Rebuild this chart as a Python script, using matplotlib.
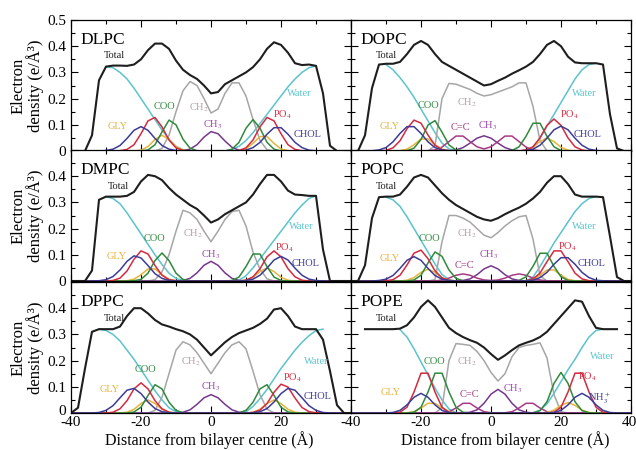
import matplotlib
matplotlib.use("Agg")
import matplotlib.pyplot as plt
import matplotlib.transforms as mtransforms
import numpy as np
from matplotlib.ticker import MultipleLocator

plt.rcParams["font.family"] = ["Liberation Serif", "DejaVu Serif"]
plt.rcParams["mathtext.fontset"] = "stix"

nan = np.nan
X = list(range(-40, 41, 2))  # distance from bilayer centre (A), one value per 2 A

# ---------------- DLPC ----------------
DLPC_TOTAL = [0, 0, 0, 0.06, 0.27, 0.322, 0.326, 0.326, 0.325, 0.33,
              0.35, 0.385, 0.41, 0.41, 0.39, 0.345, 0.31, 0.29, 0.275, 0.25,
              0.22, 0.225, 0.255, 0.27, 0.285, 0.30, 0.32, 0.35, 0.39, 0.415,
              0.405, 0.375, 0.335, 0.328, 0.33, 0.325, 0.22, 0.02, 0, 0, 0]
DLPC_WATER = [nan, nan, nan, nan, nan, 0.322, 0.318, 0.30, 0.275, 0.24,
              0.20, 0.16, 0.12, 0.08, 0.045, 0.018, 0.005, 0, 0, 0,
              0, 0, 0, 0.005, 0.018, 0.04, 0.07, 0.105, 0.14, 0.175,
              0.21, 0.245, 0.275, 0.30, 0.318, 0.325, nan, nan, nan, nan, nan]
DLPC_CH2 = [0, 0, 0, 0, 0, 0, 0, 0, 0, 0,
            0, 0, 0, 0.01, 0.06, 0.15, 0.23, 0.265, 0.25, 0.20,
            0.145, 0.16, 0.22, 0.26, 0.26, 0.21, 0.12, 0.04, 0.005, 0,
            0, 0, 0, 0, 0, 0, 0, 0, 0, 0, 0]
DLPC_CH3 = [0, 0, 0, 0, 0, 0, 0, 0, 0, 0,
            0, 0, 0, 0, 0, 0, 0.001, 0.007, 0.024, 0.053,
            0.074, 0.066, 0.038, 0.014, 0.003, 0.001, 0, 0, 0, 0,
            0, 0, 0, 0, 0, 0, 0, 0, 0, 0, 0]
DLPC_COO = [0, 0, 0, 0, 0, 0, 0, 0, 0, 0,
            0, 0.004, 0.024, 0.073, 0.118, 0.10, 0.045, 0.011, 0.001, 0,
            0, 0, 0, 0.007, 0.033, 0.087, 0.12, 0.087, 0.033, 0.007,
            0, 0, 0, 0, 0, 0, 0, 0, 0, 0, 0]
DLPC_GLY = [0, 0, 0, 0, 0, 0, 0, 0, 0, 0,
            0.003, 0.017, 0.044, 0.06, 0.044, 0.017, 0.003, 0, 0, 0,
            0, 0, 0, 0, 0, 0.008, 0.029, 0.055, 0.055, 0.029,
            0.008, 0.001, 0, 0, 0, 0, 0, 0, 0, 0, 0]
DLPC_PO4 = [0, 0, 0, 0, 0, 0, 0, 0.001, 0.006, 0.024,
            0.066, 0.115, 0.128, 0.092, 0.042, 0.012, 0.002, 0, 0, 0,
            0, 0, 0, 0, 0.002, 0.012, 0.042, 0.092, 0.128, 0.115,
            0.066, 0.024, 0.006, 0.001, 0, 0, 0, 0, 0, 0, 0]
DLPC_CHOL = [0, 0, 0, 0, 0, 0.002, 0.007, 0.021, 0.048, 0.079,
             0.093, 0.079, 0.048, 0.021, 0.007, 0.002, 0, 0, 0, 0,
             0, 0, 0, 0, 0, 0.003, 0.013, 0.033, 0.064, 0.089,
             0.089, 0.064, 0.033, 0.013, 0.003, 0.001, 0, 0, 0, 0, 0]

# ---------------- DMPC ----------------
DMPC_TOTAL = [0, 0, 0, 0.04, 0.31, 0.322, 0.322, 0.322, 0.325, 0.34,
              0.38, 0.405, 0.40, 0.385, 0.355, 0.33, 0.31, 0.29, 0.275, 0.25,
              0.223, 0.235, 0.255, 0.27, 0.285, 0.30, 0.33, 0.37, 0.405, 0.405,
              0.38, 0.345, 0.33, 0.328, 0.325, 0.325, 0.12, 0, 0, 0, 0]
DMPC_WATER = [nan, nan, nan, nan, nan, 0.322, 0.315, 0.295, 0.26, 0.22,
              0.18, 0.14, 0.10, 0.063, 0.03, 0.01, 0.002, 0, 0, 0,
              0, 0, 0, 0, 0.003, 0.02, 0.05, 0.085, 0.12, 0.155,
              0.19, 0.225, 0.26, 0.29, 0.315, 0.325, nan, nan, nan, nan, nan]
DMPC_CH2 = [0, 0, 0, 0, 0, 0, 0, 0, 0, 0,
            0, 0, 0.005, 0.035, 0.10, 0.19, 0.27, 0.26, 0.235, 0.19,
            0.15, 0.19, 0.235, 0.265, 0.27, 0.21, 0.11, 0.045, 0.008, 0,
            0, 0, 0, 0, 0, 0, 0, 0, 0, 0, 0]
DMPC_CH3 = [0, 0, 0, 0, 0, 0, 0, 0, 0, 0,
            0, 0, 0, 0, 0, 0, 0.002, 0.01, 0.031, 0.06,
            0.075, 0.06, 0.031, 0.01, 0.002, 0, 0, 0, 0, 0,
            0, 0, 0, 0, 0, 0, 0, 0, 0, 0, 0]
DMPC_COO = [0, 0, 0, 0, 0, 0, 0, 0, 0, 0.001,
            0.006, 0.03, 0.078, 0.107, 0.078, 0.03, 0.006, 0.001, 0, 0,
            0, 0, 0, 0.002, 0.015, 0.055, 0.103, 0.103, 0.055, 0.015,
            0.002, 0, 0, 0, 0, 0, 0, 0, 0, 0, 0]
DMPC_GLY = [0, 0, 0, 0, 0, 0, 0, 0, 0.001, 0.007,
            0.024, 0.046, 0.046, 0.024, 0.007, 0.001, 0, 0, 0, 0,
            0, 0, 0, 0, 0, 0.003, 0.014, 0.036, 0.05, 0.036,
            0.014, 0.003, 0, 0, 0, 0, 0, 0, 0, 0, 0]
DMPC_PO4 = [0, 0, 0, 0, 0, 0, 0.002, 0.011, 0.038, 0.083,
            0.115, 0.103, 0.059, 0.022, 0.005, 0.001, 0, 0, 0, 0,
            0, 0, 0, 0, 0, 0.003, 0.016, 0.047, 0.092, 0.115,
            0.092, 0.047, 0.016, 0.003, 0, 0, 0, 0, 0, 0, 0]
DMPC_CHOL = [0, 0, 0, 0, 0.001, 0.005, 0.017, 0.042, 0.075, 0.096,
             0.088, 0.059, 0.028, 0.01, 0.002, 0, 0, 0, 0, 0,
             0, 0, 0, 0, 0, 0.002, 0.007, 0.022, 0.049, 0.08,
             0.094, 0.08, 0.049, 0.022, 0.007, 0.002, 0, 0, 0, 0, 0]

# ---------------- DPPC ----------------
DPPC_TOTAL = [0, 0.02, 0.17, 0.31, 0.32, 0.32, 0.32, 0.33, 0.37, 0.40,
              0.40, 0.38, 0.355, 0.338, 0.33, 0.32, 0.312, 0.30, 0.28, 0.25,
              0.22, 0.245, 0.27, 0.29, 0.305, 0.315, 0.325, 0.34, 0.36, 0.395,
              0.40, 0.37, 0.33, 0.32, 0.32, 0.32, 0.28, 0.16, 0.03, 0, 0]
DPPC_WATER = [nan, nan, nan, nan, 0.32, 0.315, 0.30, 0.275, 0.24, 0.205,
              0.165, 0.125, 0.085, 0.05, 0.02, 0.005, 0, 0, 0, 0,
              0, 0, 0, 0, 0, 0.005, 0.025, 0.055, 0.09, 0.13,
              0.17, 0.205, 0.24, 0.27, 0.295, 0.315, 0.32, nan, nan, nan, nan]
DPPC_CH2 = [0, 0, 0, 0, 0, 0, 0, 0, 0, 0,
            0, 0, 0.01, 0.06, 0.15, 0.24, 0.272, 0.26, 0.23, 0.19,
            0.15, 0.19, 0.23, 0.26, 0.272, 0.245, 0.16, 0.07, 0.015, 0,
            0, 0, 0, 0, 0, 0, 0, 0, 0, 0, 0]
DPPC_CH3 = [0, 0, 0, 0, 0, 0, 0, 0, 0, 0,
            0, 0, 0, 0, 0, 0, 0.003, 0.012, 0.033, 0.058,
            0.07, 0.058, 0.033, 0.012, 0.003, 0, 0, 0, 0, 0,
            0, 0, 0, 0, 0, 0, 0, 0, 0, 0, 0]
DPPC_COO = [0, 0, 0, 0, 0, 0, 0, 0, 0, 0.004,
            0.022, 0.067, 0.108, 0.092, 0.041, 0.01, 0.001, 0, 0, 0,
            0, 0, 0, 0, 0.001, 0.01, 0.041, 0.092, 0.108, 0.067,
            0.022, 0.004, 0, 0, 0, 0, 0, 0, 0, 0, 0]
DPPC_GLY = [0, 0, 0, 0, 0, 0, 0, 0, 0.003, 0.014,
            0.036, 0.05, 0.036, 0.014, 0.003, 0, 0, 0, 0, 0,
            0, 0, 0, 0, 0, 0, 0.003, 0.014, 0.036, 0.05,
            0.036, 0.014, 0.003, 0, 0, 0, 0, 0, 0, 0, 0]
DPPC_PO4 = [0, 0, 0, 0, 0, 0, 0.003, 0.016, 0.047, 0.092,
            0.115, 0.092, 0.047, 0.016, 0.003, 0, 0, 0, 0, 0,
            0, 0, 0, 0, 0, 0, 0.002, 0.011, 0.036, 0.079,
            0.11, 0.099, 0.057, 0.021, 0.005, 0.001, 0, 0, 0, 0, 0]
DPPC_CHOL = [0, 0, 0, 0, 0.002, 0.01, 0.028, 0.058, 0.087, 0.094,
             0.074, 0.042, 0.017, 0.005, 0.001, 0, 0, 0, 0, 0,
             0, 0, 0, 0, 0, 0, 0.001, 0.005, 0.017, 0.042,
             0.074, 0.094, 0.087, 0.058, 0.028, 0.01, 0.002, 0, 0, 0, 0]

# ---------------- DOPC ----------------
DOPC_TOTAL = [0, 0, 0.06, 0.24, 0.33, 0.333, 0.333, 0.34, 0.37, 0.405,
              0.42, 0.405, 0.37, 0.34, 0.325, 0.31, 0.295, 0.28, 0.265, 0.25,
              0.255, 0.268, 0.28, 0.295, 0.308, 0.322, 0.34, 0.37, 0.405, 0.42,
              0.40, 0.36, 0.338, 0.335, 0.335, 0.335, 0.33, 0.14, 0.01, 0, 0]
DOPC_WATER = [nan, nan, nan, nan, nan, 0.33, 0.31, 0.28, 0.245, 0.205,
              0.16, 0.115, 0.07, 0.03, 0.008, 0, 0, 0, 0, 0,
              0, 0, 0, 0, 0, 0, 0.015, 0.05, 0.095, 0.14,
              0.185, 0.23, 0.275, 0.31, 0.33, 0.335, nan, nan, nan, nan, nan]
DOPC_CH2 = [0, 0, 0, 0, 0, 0, 0, 0, 0, 0,
            0, 0, 0.02, 0.2, 0.258, 0.255, 0.245, 0.235, 0.22, 0.21,
            0.215, 0.225, 0.235, 0.245, 0.26, 0.26, 0.17, 0.04, 0, 0,
            0, 0, 0, 0, 0, 0, 0, 0, 0, 0, 0]
DOPC_CH3 = [0, 0, 0, 0, 0, 0, 0, 0, 0, 0,
            0, 0, 0, 0, 0.001, 0.004, 0.013, 0.03, 0.049, 0.058,
            0.049, 0.03, 0.013, 0.004, 0.001, 0, 0, 0, 0, 0,
            0, 0, 0, 0, 0, 0, 0, 0, 0, 0, 0]
DOPC_CC = [0, 0, 0, 0, 0, 0, 0, 0, 0, 0,
           0, 0.001, 0.004, 0.015, 0.036, 0.057, 0.057, 0.036, 0.016, 0.008,
           0.016, 0.036, 0.057, 0.057, 0.036, 0.015, 0.004, 0.001, 0, 0,
           0, 0, 0, 0, 0, 0, 0, 0, 0, 0, 0]
DOPC_COO = [0, 0, 0, 0, 0, 0, 0, 0, 0.001, 0.011,
            0.044, 0.099, 0.116, 0.072, 0.023, 0.004, 0.001, 0, 0, 0,
            0, 0, 0, 0.002, 0.016, 0.056, 0.106, 0.106, 0.056, 0.016,
            0.002, 0, 0, 0, 0, 0, 0, 0, 0, 0, 0]
DOPC_GLY = [0, 0, 0, 0, 0, 0, 0, 0.001, 0.007, 0.024,
            0.046, 0.046, 0.024, 0.007, 0.001, 0, 0, 0, 0, 0,
            0, 0, 0, 0, 0, 0.003, 0.014, 0.036, 0.05, 0.036,
            0.014, 0.003, 0, 0, 0, 0, 0, 0, 0, 0, 0]
DOPC_PO4 = [0, 0, 0, 0, 0, 0.002, 0.012, 0.039, 0.085, 0.118,
            0.106, 0.061, 0.022, 0.005, 0.001, 0, 0, 0, 0, 0,
            0, 0, 0, 0, 0, 0.004, 0.016, 0.05, 0.098, 0.122,
            0.098, 0.05, 0.016, 0.004, 0, 0, 0, 0, 0, 0, 0]
DOPC_CHOL = [0, 0, 0, 0.001, 0.004, 0.013, 0.035, 0.067, 0.093, 0.093,
             0.067, 0.035, 0.013, 0.004, 0.001, 0, 0, 0, 0, 0,
             0, 0, 0, 0, 0, 0.002, 0.007, 0.022, 0.049, 0.081,
             0.095, 0.081, 0.049, 0.022, 0.007, 0.002, 0, 0, 0, 0, 0]

# ---------------- POPC ----------------
POPC_TOTAL = [0, 0, 0.06, 0.24, 0.32, 0.322, 0.322, 0.33, 0.36, 0.395,
              0.405, 0.395, 0.365, 0.335, 0.31, 0.29, 0.275, 0.26, 0.245, 0.235,
              0.23, 0.24, 0.255, 0.268, 0.28, 0.295, 0.315, 0.34, 0.375, 0.40,
              0.40, 0.37, 0.33, 0.322, 0.322, 0.322, 0.32, 0.17, 0.015, 0, 0]
POPC_WATER = [nan, nan, nan, nan, nan, 0.32, 0.31, 0.285, 0.245, 0.20,
              0.155, 0.11, 0.065, 0.025, 0.005, 0, 0, 0, 0, 0,
              0, 0, 0, 0, 0, 0, 0.015, 0.055, 0.10, 0.145,
              0.185, 0.225, 0.265, 0.295, 0.315, 0.322, nan, nan, nan, nan, nan]
POPC_CH2 = [0, 0, 0, 0, 0, 0, 0, 0, 0, 0,
            0, 0, 0.005, 0.15, 0.25, 0.25, 0.24, 0.225, 0.2, 0.175,
            0.165, 0.185, 0.21, 0.23, 0.245, 0.25, 0.16, 0.02, 0, 0,
            0, 0, 0, 0, 0, 0, 0, 0, 0, 0, 0]
POPC_CH3 = [0, 0, 0, 0, 0, 0, 0, 0, 0, 0,
            0, 0, 0, 0, 0, 0, 0.002, 0.008, 0.024, 0.046,
            0.058, 0.046, 0.024, 0.008, 0.002, 0, 0, 0, 0, 0,
            0, 0, 0, 0, 0, 0, 0, 0, 0, 0, 0]
POPC_CC = [0, 0, 0, 0, 0, 0, 0, 0, 0, 0,
           0, 0, 0, 0.004, 0.011, 0.022, 0.027, 0.022, 0.011, 0.004,
           0.002, 0.004, 0.011, 0.022, 0.027, 0.022, 0.011, 0.004, 0, 0,
           0, 0, 0, 0, 0, 0, 0, 0, 0, 0, 0]
POPC_COO = [0, 0, 0, 0, 0, 0, 0, 0, 0, 0.004,
            0.022, 0.069, 0.111, 0.094, 0.042, 0.01, 0.001, 0, 0, 0,
            0, 0, 0, 0, 0.002, 0.016, 0.056, 0.106, 0.106, 0.056,
            0.016, 0.002, 0, 0, 0, 0, 0, 0, 0, 0, 0]
POPC_GLY = [0, 0, 0, 0, 0, 0, 0, 0, 0.003, 0.013,
            0.033, 0.045, 0.033, 0.013, 0.003, 0, 0, 0, 0, 0,
            0, 0, 0, 0, 0, 0.001, 0.006, 0.022, 0.042, 0.042,
            0.022, 0.006, 0.001, 0, 0, 0, 0, 0, 0, 0, 0]
POPC_PO4 = [0, 0, 0, 0, 0, 0.001, 0.005, 0.022, 0.061, 0.106,
            0.118, 0.085, 0.039, 0.012, 0.002, 0, 0, 0, 0, 0,
            0, 0, 0, 0, 0, 0.001, 0.008, 0.03, 0.074, 0.115,
            0.115, 0.074, 0.03, 0.008, 0.001, 0, 0, 0, 0, 0, 0]
POPC_CHOL = [0, 0, 0, 0, 0.002, 0.007, 0.021, 0.048, 0.079, 0.093,
             0.079, 0.048, 0.021, 0.007, 0.002, 0, 0, 0, 0, 0,
             0, 0, 0, 0, 0, 0.001, 0.003, 0.013, 0.033, 0.064,
             0.089, 0.089, 0.064, 0.033, 0.013, 0.003, 0.001, 0, 0, 0, 0]

# ---------------- POPE ----------------
POPE_TOTAL = [nan, nan, 0.32, 0.32, 0.32, 0.32, 0.32, 0.322, 0.335, 0.365,
              0.405, 0.43, 0.405, 0.365, 0.325, 0.305, 0.29, 0.278, 0.268, 0.25,
              0.225, 0.203, 0.22, 0.24, 0.258, 0.268, 0.277, 0.29, 0.31, 0.34,
              0.37, 0.40, 0.43, 0.425, 0.37, 0.325, 0.32, 0.32, 0.32, nan, nan]
POPE_WATER = [nan, nan, nan, nan, nan, nan, nan, 0.318, 0.29, 0.245,
              0.195, 0.145, 0.095, 0.05, 0.015, 0.002, 0, 0, 0, 0,
              0, 0, 0, 0, 0, 0, 0, 0.01, 0.035, 0.075,
              0.12, 0.165, 0.205, 0.25, 0.29, 0.315, 0.32, nan, nan, nan, nan]
POPE_CH2 = [0, 0, 0, 0, 0, 0, 0, 0, 0, 0,
            0, 0, 0, 0.02, 0.2, 0.265, 0.262, 0.258, 0.235, 0.2,
            0.155, 0.122, 0.15, 0.215, 0.25, 0.258, 0.262, 0.268, 0.21, 0.07,
            0.005, 0, 0, 0, 0, 0, 0, 0, 0, 0, 0]
POPE_CH3 = [0, 0, 0, 0, 0, 0, 0, 0, 0, 0,
            0, 0, 0, 0, 0, 0, 0, 0.003, 0.012, 0.037,
            0.072, 0.09, 0.072, 0.037, 0.012, 0.003, 0, 0, 0, 0,
            0, 0, 0, 0, 0, 0, 0, 0, 0, 0, 0]
POPE_CC = [0, 0, 0, 0, 0, 0, 0, 0, 0, 0,
           0, 0, 0, 0.001, 0.005, 0.019, 0.037, 0.037, 0.019, 0.005,
           0.001, 0, 0.001, 0.005, 0.019, 0.037, 0.037, 0.019, 0.005, 0.001,
           0, 0, 0, 0, 0, 0, 0, 0, 0, 0, 0]
POPE_COO = [0, 0, 0, 0, 0, 0, 0, 0, 0, 0.003,
            0.022, 0.08, 0.152, 0.152, 0.08, 0.022, 0.003, 0, 0, 0,
            0, 0, 0, 0, 0, 0, 0.001, 0.009, 0.043, 0.113,
            0.155, 0.113, 0.043, 0.009, 0.001, 0, 0, 0, 0, 0, 0]
POPE_GLY = [0, 0, 0, 0, 0, 0, 0, 0, 0.001, 0.005,
            0.019, 0.037, 0.037, 0.019, 0.005, 0.001, 0, 0, 0, 0,
            0, 0, 0, 0, 0, 0, 0, 0, 0.002, 0.011,
            0.029, 0.04, 0.029, 0.011, 0.002, 0, 0, 0, 0, 0, 0]
POPE_PO4 = [0, 0, 0, 0, 0, 0, 0, 0.003, 0.022, 0.08,
            0.152, 0.152, 0.08, 0.022, 0.003, 0, 0, 0, 0, 0,
            0, 0, 0, 0, 0, 0, 0, 0, 0, 0.003,
            0.022, 0.08, 0.152, 0.152, 0.08, 0.022, 0.003, 0, 0, 0, 0]
POPE_NH3 = [0, 0, 0, 0, 0, 0, 0.002, 0.01, 0.031, 0.06,
            0.075, 0.06, 0.031, 0.01, 0.002, 0, 0, 0, 0, 0,
            0, 0, 0, 0, 0, 0, 0, 0, 0, 0.002,
            0.01, 0.031, 0.06, 0.075, 0.06, 0.031, 0.01, 0.002, 0, 0, 0]

PANELS = [
    ("DLPC", dict(Water=DLPC_WATER, CH2=DLPC_CH2, CH3=DLPC_CH3, GLY=DLPC_GLY,
                  COO=DLPC_COO, PO4=DLPC_PO4, CHOL=DLPC_CHOL, Total=DLPC_TOTAL)),
    ("DMPC", dict(Water=DMPC_WATER, CH2=DMPC_CH2, CH3=DMPC_CH3, GLY=DMPC_GLY,
                  COO=DMPC_COO, PO4=DMPC_PO4, CHOL=DMPC_CHOL, Total=DMPC_TOTAL)),
    ("DPPC", dict(Water=DPPC_WATER, CH2=DPPC_CH2, CH3=DPPC_CH3, GLY=DPPC_GLY,
                  COO=DPPC_COO, PO4=DPPC_PO4, CHOL=DPPC_CHOL, Total=DPPC_TOTAL)),
    ("DOPC", dict(Water=DOPC_WATER, CH2=DOPC_CH2, CH3=DOPC_CH3, CC=DOPC_CC, GLY=DOPC_GLY,
                  COO=DOPC_COO, PO4=DOPC_PO4, CHOL=DOPC_CHOL, Total=DOPC_TOTAL)),
    ("POPC", dict(Water=POPC_WATER, CH2=POPC_CH2, CH3=POPC_CH3, CC=POPC_CC, GLY=POPC_GLY,
                  COO=POPC_COO, PO4=POPC_PO4, CHOL=POPC_CHOL, Total=POPC_TOTAL)),
    ("POPE", dict(Water=POPE_WATER, CH2=POPE_CH2, CH3=POPE_CH3, CC=POPE_CC, GLY=POPE_GLY,
                  COO=POPE_COO, PO4=POPE_PO4, NH3=POPE_NH3, Total=POPE_TOTAL)),
]

# where the curve names sit in each panel (data coordinates)
LABEL_POS = {
    "DLPC": dict(Total=(-27.5, 0.363), Water=(25.2, 0.22), COO=(-13.3, 0.17), CH2=(-3.3, 0.165),
                 GLY=(-26.7, 0.095), CH3=(0.5, 0.10), PO4=(20.5, 0.14), CHOL=(27.5, 0.064)),
    "DMPC": dict(Total=(-26.5, 0.36), Water=(25.7, 0.207), COO=(-16.2, 0.163), CH2=(-5.2, 0.18),
                 GLY=(-27, 0.093), CH3=(0, 0.10), PO4=(21, 0.127), CHOL=(27, 0.067)),
    "DPPC": dict(Total=(-27.6, 0.36), Water=(30, 0.197), COO=(-18.6, 0.165), CH2=(-5.7, 0.197),
                 GLY=(-29, 0.089), CH3=(0, 0.10), PO4=(23.3, 0.134), CHOL=(30.5, 0.064)),
    "DOPC": dict(Total=(-30, 0.363), Water=(26.7, 0.22), COO=(-18, 0.172), CH2=(-6.7, 0.185),
                 GLY=(-29, 0.095), CC=(-8.6, 0.089), CH3=(-1, 0.098), PO4=(22.4, 0.14),
                 CHOL=(27.6, 0.064)),
    "POPC": dict(Total=(-30, 0.36), Water=(26.7, 0.207), COO=(-17.6, 0.163), CH2=(-6.7, 0.18),
                 GLY=(-29, 0.087), CC=(-7.6, 0.061), CH3=(-0.5, 0.099), PO4=(21.9, 0.131),
                 CHOL=(28.6, 0.067)),
    "POPE": dict(Total=(-30, 0.36), Water=(31.9, 0.214), COO=(-16.2, 0.195), CH2=(-6.7, 0.195),
                 GLY=(-28.6, 0.08), CC=(-6.2, 0.07), CH3=(6.2, 0.093), PO4=(27.6, 0.14),
                 NH3=(31, 0.055)),
}

LABEL_TEXT = {"Total": "Total", "Water": "Water", "COO": "COO", "CH2": r"CH$_2$",
              "CH3": r"CH$_3$", "GLY": "GLY", "PO4": r"PO$_4$", "CHOL": "CHOL",
              "CC": "C=C", "NH3": r"NH$_3^+$"}
COLOURS = {"Total": "#1e1e1e", "Water": "#5cc3cc", "CH2": "#a6a6a6", "CH3": "#74388c",
           "CC": "#a63a84", "GLY": "#e6b43a", "COO": "#2f8a3c", "PO4": "#d42a40",
           "CHOL": "#3c3c96", "NH3": "#3c3c96"}
LABEL_COLOURS = dict(COLOURS, CH2="#b49eaa", CH3="#9c44ac", Water="#5cc3cc")

fig = plt.figure(figsize=(6.36, 4.5), dpi=100)
W, H = 636.0, 450.0
col_left = [71, 351]
row_bottom = [299, 169, 37]


def nudge(label, dx_px, dy_px):
    label.set_transform(label.get_transform() +
                        mtransforms.ScaledTranslation(dx_px / 100, dy_px / 100,
                                                      fig.dpi_scale_trans))


for i, (name, series) in enumerate(PANELS):
    col, row = divmod(i, 3)
    ax = fig.add_axes([col_left[col] / W, row_bottom[row] / H, 280 / W, 131 / H])
    for key, vals in series.items():
        lw = 1.5 if key == "Total" else 1.1
        ax.plot(X, vals, color=COLOURS[key], lw=lw, zorder=3 if key == "Total" else 2)
    for key, (lx, ly) in LABEL_POS[name].items():
        ax.text(lx, ly, LABEL_TEXT[key], color=LABEL_COLOURS[key], fontsize=7.5,
                ha="center", va="center")
    ax.text(-37.3, 0.424, name, fontsize=12.5, ha="left", va="center")

    ax.set_xlim(-40, 40)
    ax.set_ylim(0, 0.5)
    ax.set_xticks([-40, -20, 0, 20, 40])
    ax.set_yticks([0, 0.1, 0.2, 0.3, 0.4, 0.5])
    ax.xaxis.set_minor_locator(MultipleLocator(10))
    ax.yaxis.set_minor_locator(MultipleLocator(0.05))
    ax.tick_params(which="both", direction="in", top=True, right=True, labelsize=11,
                   width=0.8)
    ax.tick_params(which="major", length=5)
    ax.tick_params(which="minor", length=3)
    ax.tick_params(axis="x", pad=2.5)
    for s in ax.spines.values():
        s.set_linewidth(0.9)
        s.set_zorder(4)
    if col == 0:
        ax.set_yticklabels(["0", "0.1", "0.2", "0.3", "0.4", "0.5" if row == 0 else ""])
        if row == 2:
            # the lowest "0" sits a little above its tick, clear of the "-40" below
            nudge(ax.get_yticklabels()[0], 0, 3)
    else:
        ax.tick_params(labelleft=False)
    if row == 2:
        ax.set_xticklabels(["-40", "-20", "0", "20", "40" if col == 1 else ""])
        if col == 1:
            nudge(ax.get_xticklabels()[-1], -2, 0)
    else:
        ax.tick_params(labelbottom=False)

for row in range(3):
    yc = (row_bottom[row] + 65.5) / H
    fig.text(27 / W, yc, "Electron\ndensity (e/Å³)", rotation=90, ha="center",
             va="center", fontsize=12, linespacing=1.0, multialignment="center")

fig.text(209 / W, 10 / H, "Distance from bilayer centre (Å)", ha="center", va="center",
         fontsize=11.5)
fig.text(505 / W, 10 / H, "Distance from bilayer centre (Å)", ha="center", va="center",
         fontsize=11.5)

fig.savefig("out.png", dpi=100)
